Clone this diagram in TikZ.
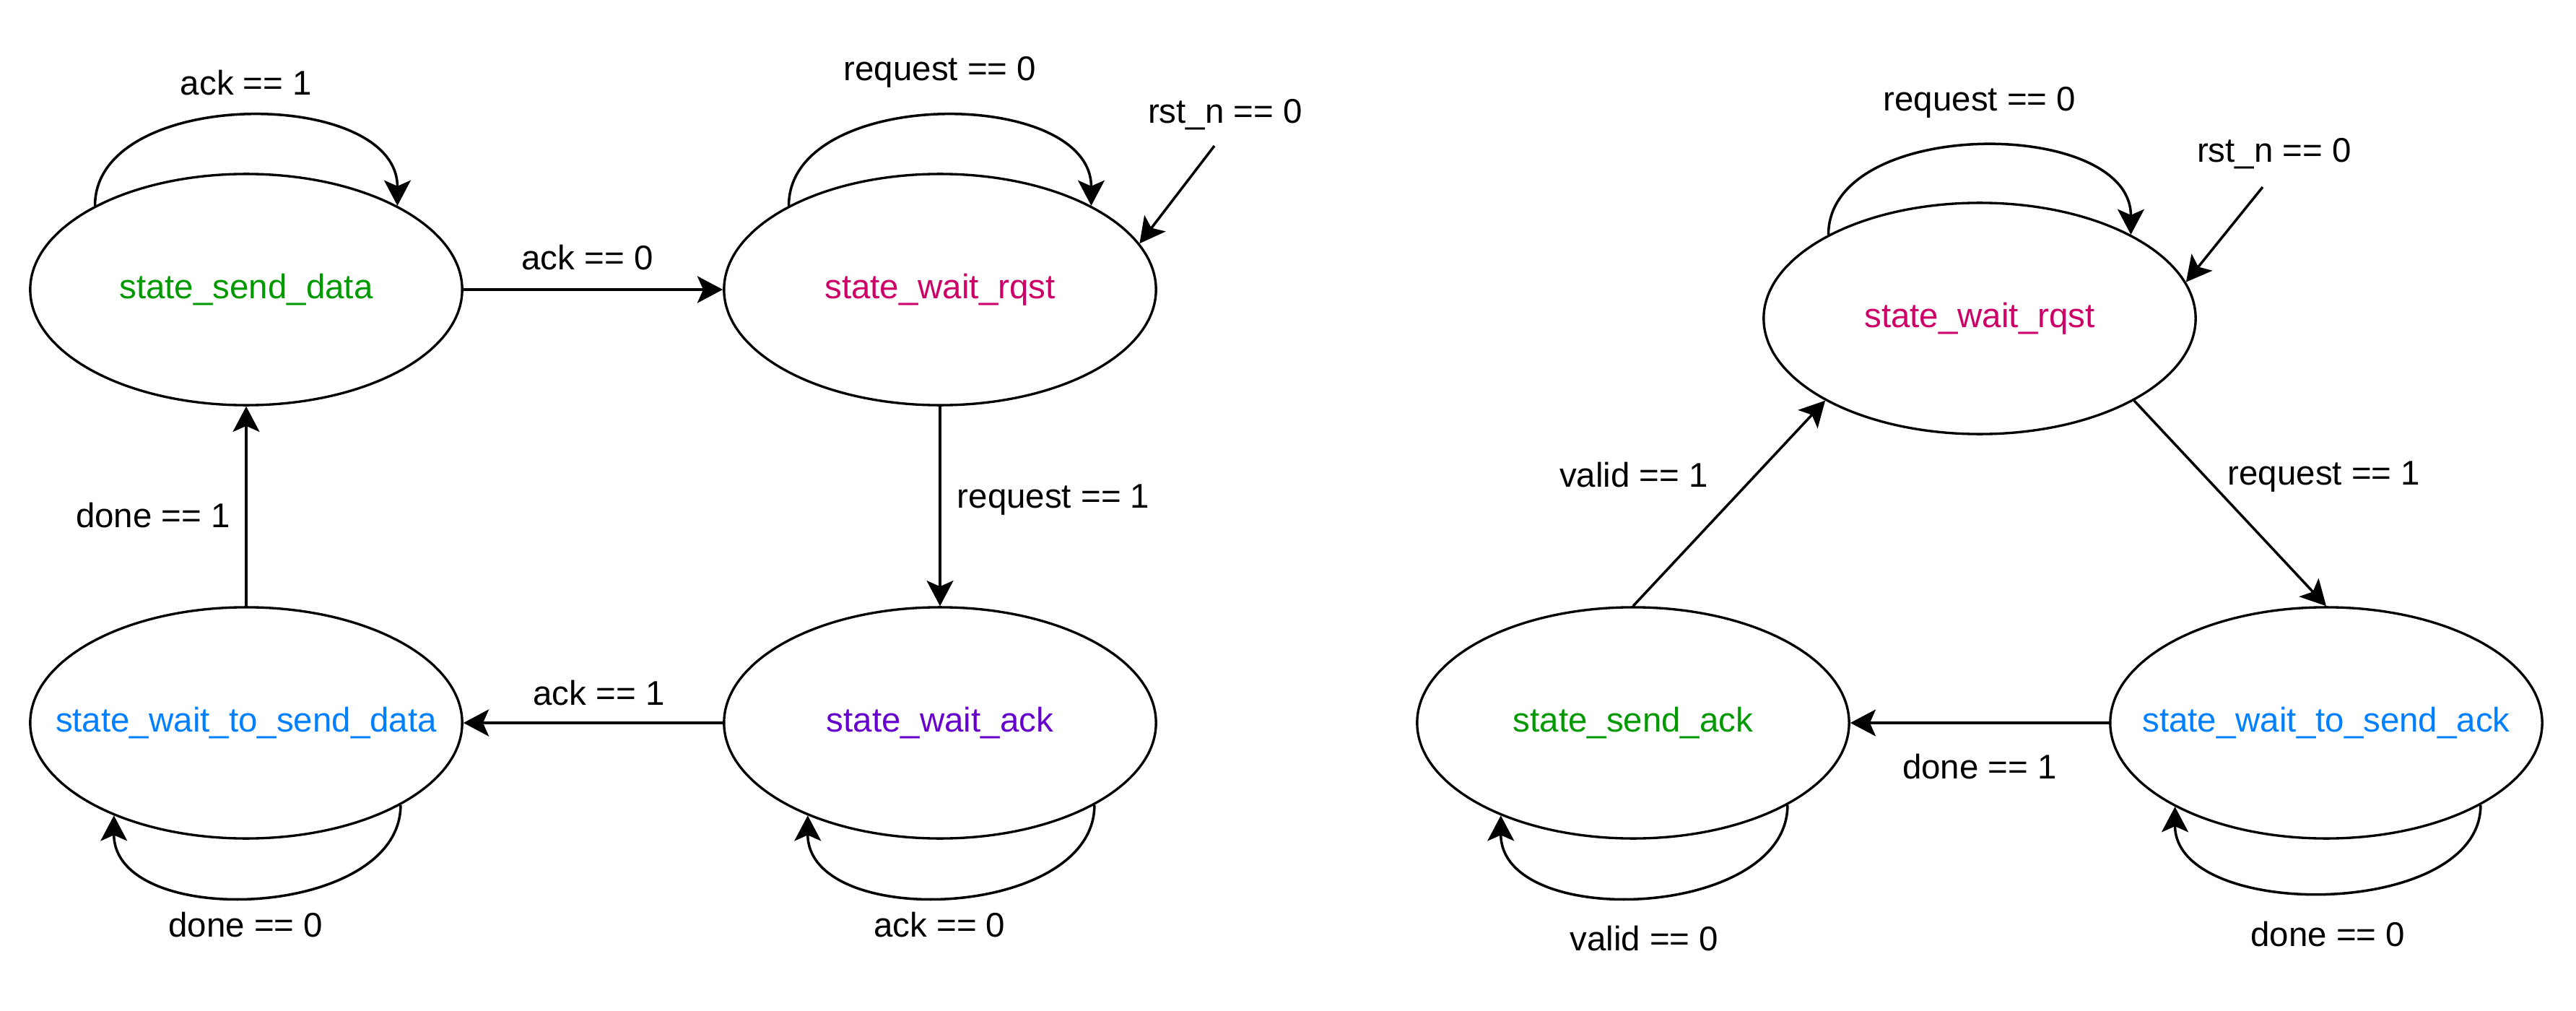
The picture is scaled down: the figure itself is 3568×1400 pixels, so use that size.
\documentclass[tikz,border=0pt]{standalone}
\usepackage{fontspec}
\setmainfont{Liberation Sans}
\usepackage{tikz}
\usetikzlibrary{arrows.meta, shapes.geometric}
\definecolor{sendcol}{HTML}{009900}
\definecolor{rqstcol}{HTML}{CC0066}
\definecolor{ackcol}{HTML}{6600CC}
\definecolor{waitcol}{HTML}{007FFF}
\begin{document}
\begin{tikzpicture}[
          x=0.01cm, y=-0.01cm,
          every node/.style={font=\fontsize{13.5}{16}\selectfont},
          state/.style={ellipse, draw, line width=0.95pt, minimum width=5.98cm, minimum height=3.2cm, inner ysep=0pt, inner xsep=-2cm},
          arr/.style={line width=1pt, -{Stealth[length=10pt, width=10.5pt, inset=2.3pt]}},
          thickarr/.style={arr, line width=1.4pt}
        ]
          \useasboundingbox (0,0) rectangle (3568,1400);
          \node[state, text=sendcol] (senddata) at (341,401) {state\_send\_data};
          \node[state, text=rqstcol] (rqst) at (1302,401) {state\_wait\_rqst};
          \node[state, text=waitcol] (waitsend) at (341,1001) {state\_wait\_to\_send\_data};
          \node[state, text=ackcol] (waitack) at (1302,1001) {state\_wait\_ack};
          \coordinate (rst) at (1682,202);
          \draw[arr] (senddata.151) .. controls +(0,-165) and +(0,-165) .. (senddata.29)
            node[midway, yshift=0.47cm] {ack == 1};
          \draw[arr] (rqst.151) .. controls +(0,-165) and +(0,-165) .. (rqst.29)
            node[midway, yshift=0.61cm] {request == 0};
          \draw[arr] (rst) node[xshift=0.15cm, yshift=0.43cm] {rst\_n == 0} -- (rqst.13);
          \draw[thickarr] (senddata) -- node[xshift=-0.08cm, yshift=0.44cm] {ack == 0} (rqst);
          \draw[arr] (rqst) -- node[xshift=1.57cm, yshift=0.09cm] {request == 1} (waitack);
          \draw[thickarr] (waitack) -- node[xshift=0.08cm, yshift=0.41cm] {ack == 1} (waitsend);
          \draw[arr] (waitsend) -- node[xshift=-1.29cm, yshift=-0.13cm] {done == 1} (senddata);
          \draw[arr] (waitsend.332) .. controls +(0,159) and +(0,159) .. (waitsend.215)
            node[midway, xshift=-0.16cm, yshift=-0.39cm] {done == 0};
          \draw[arr] (waitack.332) .. controls +(0,159) and +(0,159) .. (waitack.215)
            node[midway, xshift=-0.16cm, yshift=-0.39cm] {ack == 0};
          \node[state, text=rqstcol] (rqsttwo) at (2742,441) {state\_wait\_rqst};
          \node[state, text=sendcol] (sendack) at (2262,1001) {state\_send\_ack};
          \node[state, text=waitcol] (waitsendack) at (3222,1001) {state\_wait\_to\_send\_ack};
          \coordinate (rsttwo) at (3134,259);
          \draw[arr] (rqsttwo.151) .. controls +(0,-163) and +(0,-163) .. (rqsttwo.29)
            node[midway, yshift=0.61cm] {request == 0};
          \draw[arr] (rsttwo) node[xshift=0.16cm, yshift=0.46cm] {rst\_n == 0} -- (rqsttwo.10);
          \draw[arr] (sendack.north) -- node[xshift=-1.32cm, yshift=0.39cm] {valid == 1} (rqsttwo.208);
          \draw[arr] (rqsttwo.332) -- node[xshift=1.30cm, yshift=0.37cm] {request == 1} (waitsendack.north);
          \draw[arr] (waitsendack) -- node[yshift=-0.60cm] {done == 1} (sendack);
          \draw[arr] (sendack.332) .. controls +(0,159) and +(0,159) .. (sendack.215)
            node[midway, yshift=-0.58cm] {valid == 0};
          \draw[arr] (waitsendack.332) .. controls +(0,159) and +(0,159) .. (waitsendack.209)
            node[midway, yshift=-0.58cm] {done == 0};
        \end{tikzpicture}
\end{document}
